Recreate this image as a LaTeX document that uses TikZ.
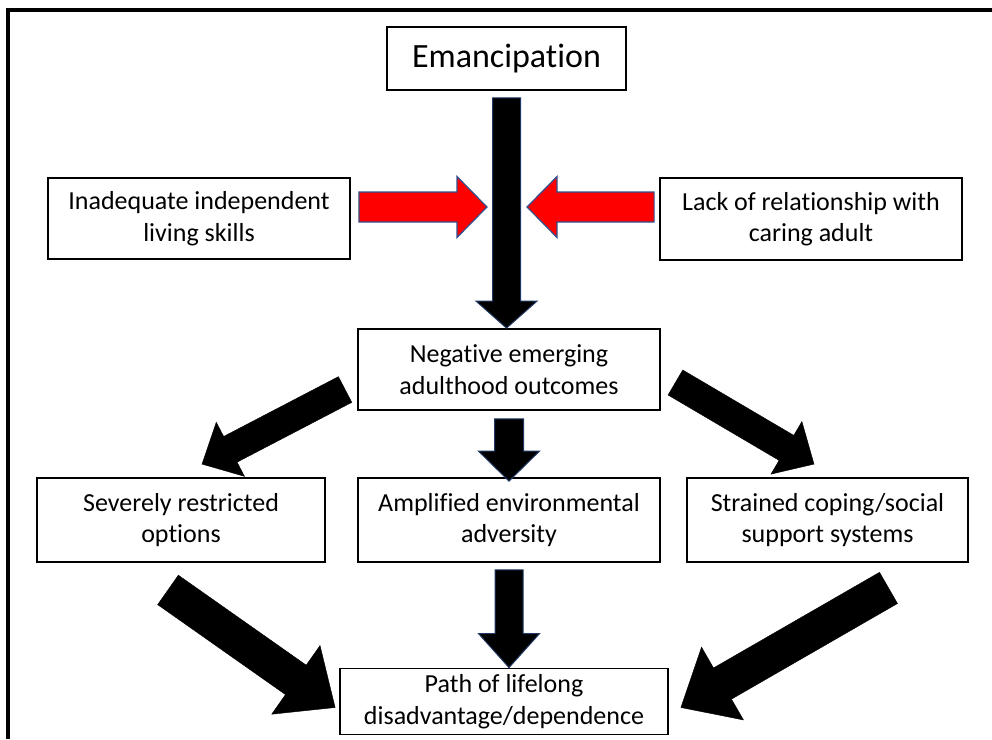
\documentclass[tikz,border=0pt]{standalone}
\usepackage{fontspec}
\setmainfont{Carlito}[Ligatures=CommonOff]
\usetikzlibrary{calc,positioning}
\definecolor{arrowred}{RGB}{255,0,0}
\definecolor{redline}{RGB}{47,82,143}
\definecolor{navyline}{RGB}{31,56,100}
\tikzset{
  textbox/.style={draw=black,line width=1.8pt,fill=white,align=center,inner sep=0pt,
    font=\fontsize{26}{31.5}\selectfont},
  blackarrow/.style={fill=black,draw=navyline,line width=1pt},
  redarrow/.style={fill=arrowred,draw=redline,line width=1.2pt},
  bigblack/.style={fill=black}
}
% block arrow: [style]{from}{to}{half shaft}{half head}{head length}
\newcommand{\blockarrow}[6][blackarrow]{%
  \path #2 coordinate (ba-a) #3 coordinate (ba-b);
  \coordinate (ba-c) at ($(ba-b)!#6!(ba-a)$);
  \draw[#1] ($(ba-a)!#4!90:(ba-b)$) -- ($(ba-c)!#4!-90:(ba-a)$) -- ($(ba-c)!#5!-90:(ba-a)$)
    -- (ba-b) -- ($(ba-c)!#5!90:(ba-a)$) -- ($(ba-c)!#4!90:(ba-a)$) -- ($(ba-a)!#4!-90:(ba-b)$) -- cycle;
}

\begin{document}
\begin{tikzpicture}[x=1pt,y=-1pt]
    \useasboundingbox (0,0) rectangle (992,739);
    \draw[line width=3.4pt] (8,739) -- (8,10) -- (992,10); % frame

    \node[textbox,minimum width=239pt,minimum height=63pt,font=\fontsize{34}{40}\selectfont] (emanc) at (506.5,58.5) {Emancipation};
    \node[textbox,minimum width=302pt,minimum height=81pt] (skills) at (199,218.5) {Inadequate independent\\living skills};
    \node[textbox,minimum width=302pt,minimum height=82pt] (adult) at (811,219) {Lack of relationship with\\caring adult};
    \node[textbox,minimum width=302pt,minimum height=81pt] (negative) at (509,369.5) {Negative emerging\\adulthood outcomes};
    \node[textbox,minimum width=288pt,minimum height=84pt] (options) at (181,520) {Severely restricted\\options};
    \node[textbox,minimum width=302pt,minimum height=84pt] (adversity) at (509,520) {Amplified environmental\\adversity};
    \node[textbox,minimum width=281pt,minimum height=84pt] (coping) at (827.5,520) {Strained coping/social\\support systems};
    \node[textbox,minimum width=328pt,minimum height=66pt] (lifelong) at (504,701.5) {Path of lifelong\\disadvantage/dependence};

    \coordinate (meet) at (506,207);

    \blockarrow{($(emanc.south)+(0,7)$)}{(emanc.south |- negative.north)}{14pt}{30.5pt}{27pt}
    \blockarrow[redarrow]{($(skills.east |- meet)+(8,0)$)}{($(meet)+(-19,0)$)}{15pt}{30.5pt}{30pt}
    \blockarrow[redarrow]{($(adult.west |- meet)+(-5,0)$)}{($(meet)+(21,0)$)}{15pt}{30.5pt}{30pt}

    \blockarrow[bigblack]{($(negative.west)+(-12,20)$)}{($(options.north)+(21,-13)$)}{14.5pt}{30.5pt}{32pt}
    \blockarrow[bigblack]{($(negative.east)+(14.5,13)$)}{($(coping.north)+(-13.5,-13)$)}{14.5pt}{30.5pt}{32pt}
    \blockarrow{($(negative.south)+(0,8)$)}{($(adversity.north)+(0,4)$)}{14.5pt}{30.5pt}{30pt}
    \blockarrow{($(adversity.south)+(0,7)$)}{(adversity.south |- lifelong.north)}{14pt}{30.5pt}{34pt}

    \blockarrow[bigblack]{($(options.south)+(-13,27)$)}{($(lifelong.west)+(-4,6)$)}{18pt}{42pt}{48pt}
    \blockarrow[bigblack]{($(coping.south)+(61,25)$)}{($(lifelong.east)+(12,6)$)}{18pt}{42pt}{48pt}
\end{tikzpicture}
\end{document}
